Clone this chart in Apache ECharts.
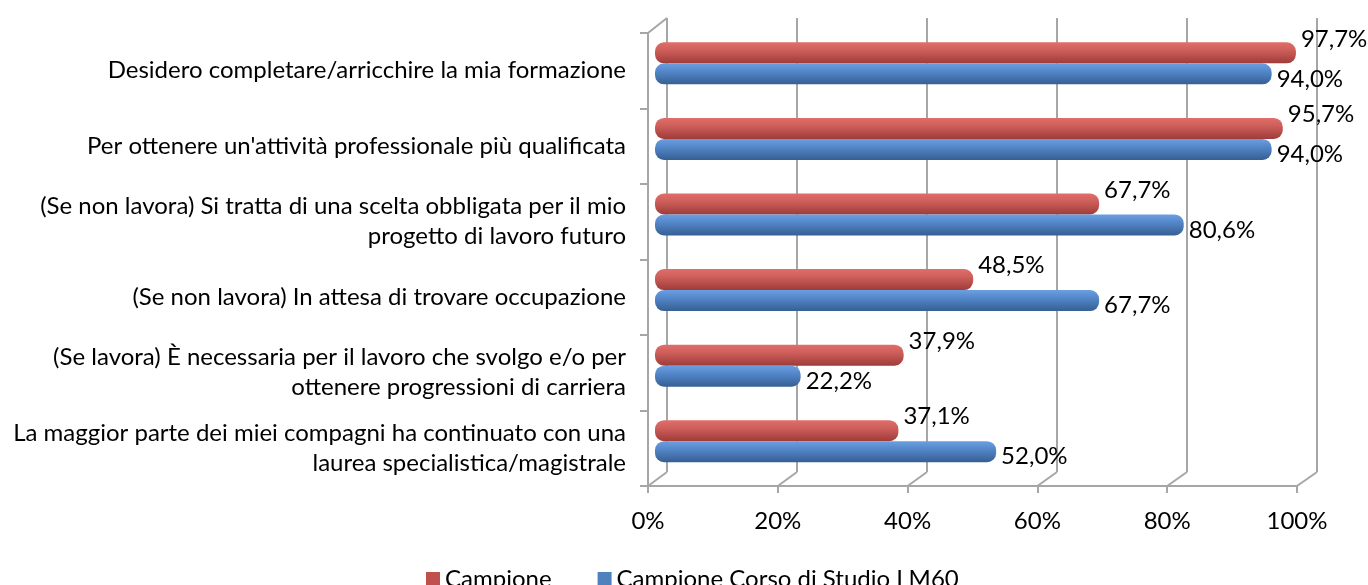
<!DOCTYPE html>
<html>
<head>
<meta charset="utf-8">
<script src="https://cdn.jsdelivr.net/npm/echarts@6/dist/echarts.min.js"></script>
<style>html,body{margin:0;padding:0;background:#fff;}#c{width:1368px;height:585px;}</style>
</head>
<body>
<div id="c"></div>
<script>
const categories = [
  "Desidero completare/arricchire la mia formazione",
  "Per ottenere un'attività professionale più qualificata",
  "(Se non lavora) Si tratta di una scelta obbligata per il mio\nprogetto di lavoro futuro",
  "(Se non lavora) In attesa di trovare occupazione",
  "(Se lavora) È necessaria per il lavoro che svolgo e/o per\nottenere progressioni di carriera",
  "La maggior parte dei miei compagni ha continuato con una\nlaurea specialistica/magistrale"
];
const seriesNames = ["Campione", "Campione Corso di Studio LM60"];
const campione = [97.7, 95.7, 67.7, 48.5, 37.9, 37.1];
const campioneLM60 = [94.0, 94.0, 80.6, 67.7, 22.2, 52.0];
const xTicks = [0, 20, 40, 60, 80, 100];

const W = 1368, H = 585;
const back = {left: 667, right: 51, top: 18, bottom: 113};
const mid = {left: 655, right: 57, top: 25.5, bottom: 106};
const front = {left: 648, right: 71, top: 33, bottom: 99};
const FONT = 'Lato';
const FS = 24;
const gridColor = '#A6A6A6';

const fmt = v => v.toFixed(1).replace('.', ',') + '%';

function grad(c1, c2, c3) {
  return new echarts.graphic.LinearGradient(0, 0, 0, 1, [
    {offset: 0, color: c1}, {offset: 0.35, color: c2}, {offset: 1, color: c3}
  ]);
}

const chart = echarts.init(document.getElementById('c'), null, {renderer: 'canvas'});

const option = {
  animation: false,
  backgroundColor: '#fff',
  textStyle: {fontFamily: FONT},
  grid: [
    Object.assign({containLabel: false}, back),
    Object.assign({containLabel: false}, mid),
    Object.assign({containLabel: false}, front)
  ],
  xAxis: [
    {gridIndex: 0, type: 'value', min: 0, max: 100, interval: 20,
     axisLine: {show: false}, axisTick: {show: false}, axisLabel: {show: false},
     splitLine: {show: true, showMinLine: true, showMaxLine: true, lineStyle: {color: gridColor, width: 2}}},
    {gridIndex: 1, type: 'value', min: 0, max: 100, interval: 20,
     axisLine: {show: false}, axisTick: {show: false}, axisLabel: {show: false}, splitLine: {show: false}},
    {gridIndex: 2, type: 'value', min: 0, max: 100, interval: 20,
     axisLine: {show: true, lineStyle: {color: gridColor, width: 2}},
     axisTick: {show: true, length: 7, lineStyle: {color: gridColor, width: 2}},
     axisLabel: {show: true, fontSize: FS, color: '#000', fontFamily: FONT, margin: 23,
                 formatter: v => v + '%'},
     splitLine: {show: false}}
  ],
  yAxis: [
    {gridIndex: 0, type: 'category', data: categories, inverse: true,
     axisLine: {show: false}, axisTick: {show: false}, axisLabel: {show: false}, splitLine: {show: false}},
    {gridIndex: 1, type: 'category', data: categories, inverse: true,
     axisLine: {show: false}, axisTick: {show: false}, axisLabel: {show: false}, splitLine: {show: false}},
    {gridIndex: 2, type: 'category', data: categories, inverse: true,
     axisLine: {show: true, lineStyle: {color: gridColor, width: 2}},
     axisTick: {show: true, length: 8, lineStyle: {color: gridColor, width: 2}},
     axisLabel: {show: true, fontSize: FS, color: '#000', fontFamily: FONT, margin: 22,
                 align: 'right', lineHeight: 30},
     splitLine: {show: false}}
  ],
  legend: {
    data: [
      {name: seriesNames[0], itemStyle: {color: '#C0504D'}},
      {name: seriesNames[1], itemStyle: {color: '#4F81BD'}}
    ],
    left: 421, top: 562, icon: 'rect', itemWidth: 14, itemHeight: 14,
    itemGap: 46, textStyle: {fontSize: FS, color: '#000', fontFamily: FONT}
  },
  series: [
    {name: seriesNames[0], type: 'bar', xAxisIndex: 1, yAxisIndex: 1, data: campione,
     barWidth: 21, barGap: '0%', color: '#C0504D',
     itemStyle: {color: grad('#E06E6A', '#D0605C', '#9E3C39'), borderRadius: 9},
     label: {show: true, position: 'right', distance: 5, offset: [0, -14], formatter: p => fmt(p.value),
             fontSize: FS, color: '#000', fontFamily: FONT}},
    {name: seriesNames[1], type: 'bar', xAxisIndex: 1, yAxisIndex: 1, data: campioneLM60,
     barWidth: 21, barGap: '0%', color: '#4F81BD',
     itemStyle: {color: grad('#6C9FE0', '#5589CC', '#365F93'), borderRadius: 9},
     label: {show: true, position: 'right', distance: 5, offset: [0, 5], formatter: p => fmt(p.value),
             fontSize: FS, color: '#000', fontFamily: FONT}}
  ]
};
chart.setOption(option);

// 3D depth connectors (wall edges) derived from the axes
const lines = [];
const fb = H - front.bottom, bb = H - back.bottom;
xTicks.forEach(t => {
  const fx = chart.convertToPixel({xAxisIndex: 2}, t);
  const bx = chart.convertToPixel({xAxisIndex: 0}, t);
  lines.push({type: 'line', shape: {x1: fx, y1: fb, x2: bx, y2: bb}, style: {stroke: gridColor, lineWidth: 2}, z: 0});
});
const fx0 = chart.convertToPixel({xAxisIndex: 2}, 0);
const bx0 = chart.convertToPixel({xAxisIndex: 0}, 0);
lines.push({type: 'line', shape: {x1: fx0, y1: front.top, x2: bx0, y2: back.top}, style: {stroke: gridColor, lineWidth: 2}, z: 0});
chart.setOption({graphic: lines});
</script>
</body>
</html>
